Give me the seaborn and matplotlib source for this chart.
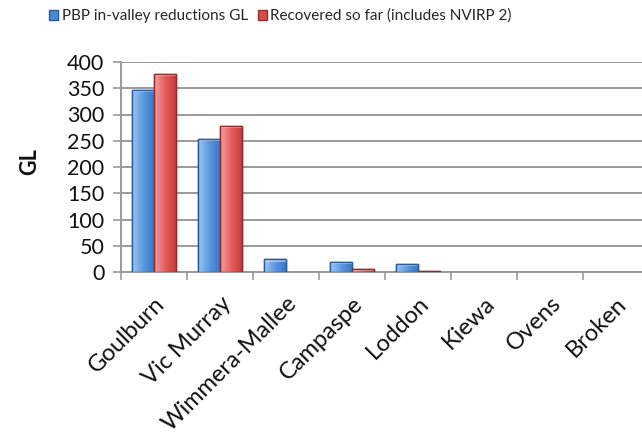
import numpy as np
import pandas as pd
import matplotlib
matplotlib.use("Agg")
import matplotlib.pyplot as plt
import seaborn as sns
from matplotlib.colors import LinearSegmentedColormap
from matplotlib.patches import Rectangle

regions = ["Goulburn", "Vic Murray", "Wimmera-Mallee", "Campaspe",
           "Loddon", "Kiewa", "Ovens", "Broken"]
pbp_reductions = [346, 254, 24, 19, 15, 0, 0, 0]
recovered = [377, 279, 0, 5, 2, 0, 0, 0]
series_names = ["PBP in-valley reductions GL", "Recovered so far (includes NVIRP 2)"]
y_ticks = [0, 50, 100, 150, 200, 250, 300, 350, 400]

df = pd.DataFrame({
    "region": regions * 2,
    "value": pbp_reductions + recovered,
    "series": [series_names[0]] * len(regions) + [series_names[1]] * len(regions),
})

sns.set_theme(style="white")
plt.rcParams["font.family"] = ["Lato", "DejaVu Sans"]

fig = plt.figure(figsize=(6.42, 4.32), dpi=100)
ax = fig.add_axes([121 / 642, 1 - 272 / 432, 528 / 642, 210 / 432])

palette = {series_names[0]: "#4d88d6", series_names[1]: "#dc4a4a"}
edges = {series_names[0]: "#2c5a96", series_names[1]: "#8c2e2e"}
sns.barplot(data=df, x="region", y="value", hue="series", order=regions,
            hue_order=series_names, palette=palette, width=0.67,
            saturation=1, ax=ax, legend=False, zorder=3)

# horizontal gradient shading on each bar
grad = {
    series_names[0]: LinearSegmentedColormap.from_list("b", ["#9cc6f6", "#5c97e0", "#3a74c4"]),
    series_names[1]: LinearSegmentedColormap.from_list("r", ["#f4a0a0", "#e45c5c", "#c43838"]),
}
n = len(regions)
g = np.linspace(0, 1, 64).reshape(1, -1)
for i, p in enumerate(ax.patches[:2 * n]):
    s = series_names[i // n]
    x0, y0 = p.get_x(), p.get_y()
    w, h = p.get_width(), p.get_height()
    p.set_edgecolor(edges[s])
    p.set_linewidth(1.0)
    if h <= 0:
        p.set_visible(False)
        continue
    im = ax.imshow(g, cmap=grad[s], aspect="auto", extent=[x0, x0 + w, y0, y0 + h],
                   zorder=3.5, interpolation="bicubic")
    im.set_clip_path(p)
    # light cap on top of bar
    cap = min(h, 4)
    ax.add_patch(Rectangle((x0, y0 + h - cap), w, cap, facecolor="white",
                           alpha=0.45, edgecolor="none", zorder=3.6))
    ax.add_patch(Rectangle((x0, y0), w, h, facecolor="none",
                           edgecolor=edges[s], linewidth=1.0, zorder=3.7))

ax.set_xlim(-0.5, n - 0.5)
ax.set_ylim(0, 400)
ax.set_yticks(y_ticks)
ax.set_yticklabels([str(v) for v in y_ticks], fontsize=15.5, color="#111111")
ax.yaxis.grid(True, color="#9a9a9a", linewidth=1.4, zorder=0)
ax.xaxis.grid(False)

ax.set_xticks(range(n))
ax.set_xticklabels(regions, rotation=45, ha="right", rotation_mode="anchor",
                   fontsize=17, color="#111111")
ax.tick_params(axis="x", which="major", length=0, pad=15)
ax.set_xticks(np.arange(-0.5, n, 1), minor=True)
ax.tick_params(axis="x", which="minor", length=6, width=1.2, color="#9a9a9a",
               direction="out", bottom=True)
ax.tick_params(axis="y", length=6, width=1.2, color="#9a9a9a", direction="out",
               left=True, pad=6)

for side in ["top", "right"]:
    ax.spines[side].set_visible(False)
for side in ["left", "bottom"]:
    ax.spines[side].set_color("#9a9a9a")
    ax.spines[side].set_linewidth(1.4)

ax.set_xlabel("")
ax.set_ylabel("")
fig.text(30 / 642, 1 - 162 / 432, "GL", rotation=90, fontsize=15.5,
         fontweight="bold", ha="center", va="center", color="#111111")

# legend along the top
handles = [Rectangle((0, 0), 1, 1, facecolor=palette[s], edgecolor=edges[s])
           for s in series_names]
fig.legend(handles, series_names, loc="center left",
           bbox_to_anchor=(43 / 642, 1 - 16 / 432), ncol=2, frameon=False,
           fontsize=11, handlelength=0.6, handleheight=0.6,
           handletextpad=0.25, columnspacing=0.6, borderaxespad=0)

fig.savefig("out.png", dpi=100)
